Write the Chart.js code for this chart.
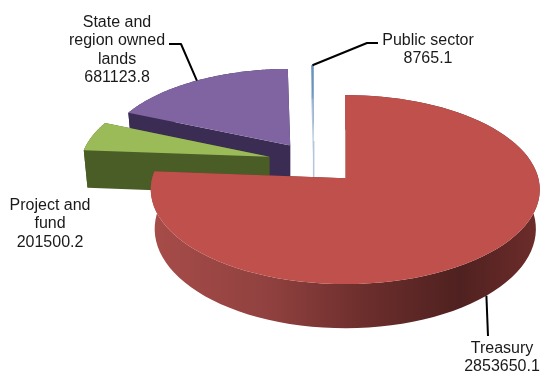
<!DOCTYPE html>
<html>
<head>
<meta charset="utf-8">
<title>Pie</title>
<script src="https://cdn.jsdelivr.net/npm/chart.js@4"></script>
<style>
  html, body { margin: 0; padding: 0; background: #fff; }
  canvas { display: block; }
</style>
</head>
<body>
<canvas id="pie" width="540" height="371"></canvas>
<script>
const categories = ['Treasury', 'Project and fund', 'State and region owned lands', 'Public sector'];
const values = [2853650.1, 201500.2, 681123.8, 8765.1];
const labelLines = [['Treasury'], ['Project and', 'fund'], ['State and', 'region owned', 'lands'], ['Public sector']];
const topColors = ['#bf504c', '#9bbb59', '#8064a2', '#6a93c0'];
const sideColors = ['#6e2f2d', '#4b5d27', '#3b2c54', '#b4c6da'];
const explode = [46, 46, 43, 46];

// fake 3d: plane coords are squashed and get bigger towards the viewer
const TILT = 0.47;
const PERSPECTIVE = 0.00062;
const DEPTH = 38;
const WIDTH_SCALE = 0.995;
const BASE_SHRINK = 0.98;
const STEPS = 90;

// text anchors (centre x, first baseline y) and leader elbows, per slice
const labelAnchors = [[502, 353], [50, 210], [117, 27], [428, 45]];
const leaderElbows = [[[488, 336]], null, [[181, 44], [169, 44]], [[367, 43], [378, 43]]];
const drawOrder = [2, 3, 1, 0];

// du/dv are measured from the slice apex, so straight-up cuts stay vertical
function project(g, du, dv, drop) {
  const v = g.apexV + dv;
  const w = 1 / (1 - PERSPECTIVE * v);
  const shrink = drop ? BASE_SHRINK : 1;
  return { x: g.x + g.apexU + du * w * WIDTH_SCALE * shrink, y: g.y + v * TILT * w + drop * w };
}

function sliceGeometry(arc) {
  const p = arc.getProps(['x', 'y', 'startAngle', 'endAngle', 'outerRadius'], true);
  const mid = (p.startAngle + p.endAngle) / 2;
  const offset = arc.options.offset;
  return { ...p, mid, apexU: Math.cos(mid) * offset, apexV: Math.sin(mid) * offset };
}

function rimPoints(g, from, to, drop) {
  const pts = [];
  for (let i = 0; i <= STEPS; i++) {
    const a = from + (to - from) * i / STEPS;
    pts.push(project(g, Math.cos(a) * g.outerRadius, Math.sin(a) * g.outerRadius, drop));
  }
  return pts;
}

function fillPoly(ctx, pts, fill) {
  ctx.beginPath();
  pts.forEach((pt, i) => (i ? ctx.lineTo(pt.x, pt.y) : ctx.moveTo(pt.x, pt.y)));
  ctx.closePath();
  ctx.fillStyle = fill;
  ctx.fill();
}

function redRimGradient(ctx, g) {
  const left = g.x + g.apexU - g.outerRadius;
  const grad = ctx.createLinearGradient(left, 0, left + g.outerRadius * 2, 0);
  grad.addColorStop(0, '#a64c49');
  grad.addColorStop(0.3, '#90413f');
  grad.addColorStop(0.55, '#6c2e2c');
  grad.addColorStop(0.8, '#4f2120');
  grad.addColorStop(1, '#6c2c2a');
  return grad;
}

function drawSlice(ctx, arc, i) {
  const g = sliceGeometry(arc);
  const apexTop = project(g, 0, 0, 0);
  const apexBase = project(g, 0, 0, DEPTH);
  const rimTop = rimPoints(g, g.startAngle, g.endAngle, 0);
  const rimBase = rimPoints(g, g.startAngle, g.endAngle, DEPTH);

  // cut faces
  fillPoly(ctx, [apexTop, rimTop[0], rimBase[0], apexBase], sideColors[i]);
  fillPoly(ctx, [apexTop, rimTop[STEPS], rimBase[STEPS], apexBase], sideColors[i]);
  // outer wall
  const wall = i === 0 ? redRimGradient(ctx, g) : sideColors[i];
  fillPoly(ctx, rimTop.concat(rimBase.slice().reverse()), wall);
  // the sliver's cut face has no width on screen, so give it a line
  if (g.endAngle - g.startAngle < 0.05) {
    ctx.strokeStyle = sideColors[i];
    ctx.lineWidth = 1.5;
    ctx.beginPath();
    ctx.moveTo(apexTop.x, apexTop.y);
    ctx.lineTo(apexBase.x, apexBase.y);
    ctx.stroke();
  }
  // top face
  fillPoly(ctx, [apexTop].concat(rimTop), arc.options.backgroundColor);
}

const pie3d = {
  id: 'pie3d',
  beforeDatasetsDraw(chart) {
    const ctx = chart.ctx;
    const arcs = chart.getDatasetMeta(0).data;
    ctx.save();
    drawOrder.forEach(i => drawSlice(ctx, arcs[i], i));
    ctx.restore();
    return false;
  },
  afterDraw(chart) {
    const ctx = chart.ctx;
    const arcs = chart.getDatasetMeta(0).data;
    ctx.save();
    ctx.strokeStyle = '#000';
    ctx.lineWidth = 2;
    ctx.lineJoin = 'round';
    arcs.forEach((arc, i) => {
      if (!leaderElbows[i]) return;
      const g = sliceGeometry(arc);
      const start = project(g, Math.cos(g.mid) * g.outerRadius, Math.sin(g.mid) * g.outerRadius, i === 0 ? DEPTH : 0);
      ctx.beginPath();
      ctx.moveTo(start.x, start.y);
      leaderElbows[i].forEach(pt => ctx.lineTo(pt[0], pt[1]));
      ctx.stroke();
    });
    ctx.fillStyle = '#1a1a1a';
    ctx.font = '16px "Liberation Sans", Arial, sans-serif';
    ctx.textAlign = 'center';
    values.forEach((val, i) => {
      const lines = labelLines[i].concat(val.toFixed(1));
      lines.forEach((line, n) => ctx.fillText(line, labelAnchors[i][0], labelAnchors[i][1] + n * 18.4));
    });
    ctx.restore();
  }
};

new Chart(document.getElementById('pie').getContext('2d'), {
  type: 'pie',
  data: {
    labels: categories,
    datasets: [{
      data: values,
      backgroundColor: topColors,
      borderWidth: 0,
      offset: explode
    }]
  },
  options: {
    responsive: false,
    animation: false,
    radius: 190,
    layout: { padding: { left: 88, bottom: 47 } },
    plugins: {
      legend: { display: false },
      tooltip: { enabled: false }
    }
  },
  plugins: [pie3d]
});
</script>
</body>
</html>
